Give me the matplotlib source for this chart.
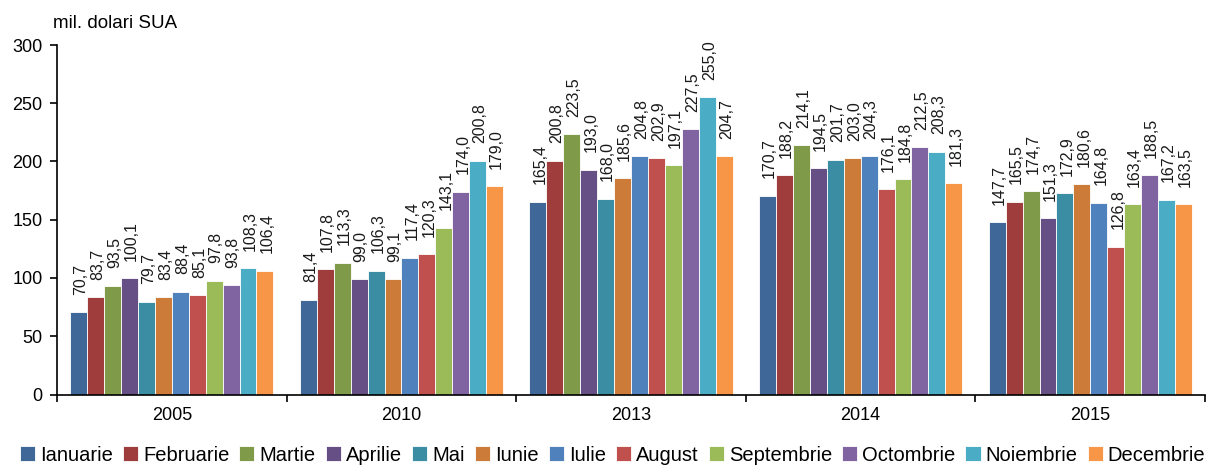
import numpy as np
import matplotlib.pyplot as plt

plt.rcParams['font.family'] = ['Liberation Sans', 'DejaVu Sans']

# DATE
ani = ["2005", "2010", "2013", "2014", "2015"]
luni = ["Ianuarie", "Februarie", "Martie", "Aprilie", "Mai", "Iunie",
        "Iulie", "August", "Septembrie", "Octombrie", "Noiembrie", "Decembrie"]

valori = {
    "2005": [70.7, 83.7, 93.5, 100.1, 79.7, 83.4, 88.4, 85.1, 97.8, 93.8, 108.3, 106.4],
    "2010": [81.4, 107.8, 113.3, 99.0, 106.3, 99.1, 117.4, 120.3, 143.1, 174.0, 200.8, 179.0],
    "2013": [165.4, 200.8, 223.5, 193.0, 168.0, 185.6, 204.8, 202.9, 197.1, 227.5, 255.0, 204.7],
    "2014": [170.7, 188.2, 214.1, 194.5, 201.7, 203.0, 204.3, 176.1, 184.8, 212.5, 208.3, 181.3],
    "2015": [147.7, 165.5, 174.7, 151.3, 172.9, 180.6, 164.8, 126.8, 163.4, 188.5, 167.2, 163.5],
}

culori = ["#3F6797", "#9E3D3B", "#7F9A48", "#664F84", "#3B8DA3", "#CC7B38",
          "#4F81BD", "#C0504D", "#9BBB59", "#8064A2", "#4BACC6", "#F79646"]

# GRAFIC
fig = plt.figure(figsize=(12.13, 4.65), dpi=100)
ax = fig.add_axes([0.047, 1 - 394.5 / 465, 0.9465, 349.5 / 465])

x = np.arange(len(ani))
grup = 0.885
latime = grup / 12

for i, luna in enumerate(luni):
    vals = [valori[a][i] for a in ani]
    pos = x - grup / 2 + latime * (i + 0.5)
    bars = ax.bar(pos, vals, latime, color=culori[i], edgecolor="white",
                  linewidth=0.6, label=luna)
    for b, v in zip(bars, vals):
        ax.annotate(f"{v:.1f}".replace(".", ","),
                    (b.get_x() + b.get_width() / 2, v),
                    xytext=(1.5, 12.5), textcoords="offset points",
                    rotation=90, ha="center", va="bottom",
                    fontsize=11.5, color="#1a1a1a")

ax.set_xlim(-0.5, len(ani) - 0.5)
ax.set_ylim(0, 300)
ax.set_yticks(range(0, 301, 50))
ax.set_xticks(x)
ax.set_xticklabels(ani)
ax.set_xticks(np.arange(-0.5, len(ani), 1), minor=True)
ax.tick_params(axis="x", which="major", length=0, pad=9, labelsize=13)
ax.tick_params(axis="x", which="minor", length=5, direction="out", width=1.2)
ax.tick_params(axis="y", length=5, direction="out", width=1.2, labelsize=13, pad=5.5)

for s in ["top", "right"]:
    ax.spines[s].set_visible(False)
ax.spines["left"].set_linewidth(1.2)
ax.spines["bottom"].set_linewidth(1.2)

fig.text(0.044, 1 - 28 / 465, "mil. dolari SUA", fontsize=13.5,
         ha="left", va="baseline")

fig.legend(loc="center", bbox_to_anchor=(0.505, 1 - 455 / 465), ncol=12,
           frameon=False, fontsize=14.5, handlelength=0.75, handleheight=0.75,
           handletextpad=0.25, columnspacing=0.5, borderaxespad=0,
           borderpad=0)

fig.savefig("out.png", dpi=100)
